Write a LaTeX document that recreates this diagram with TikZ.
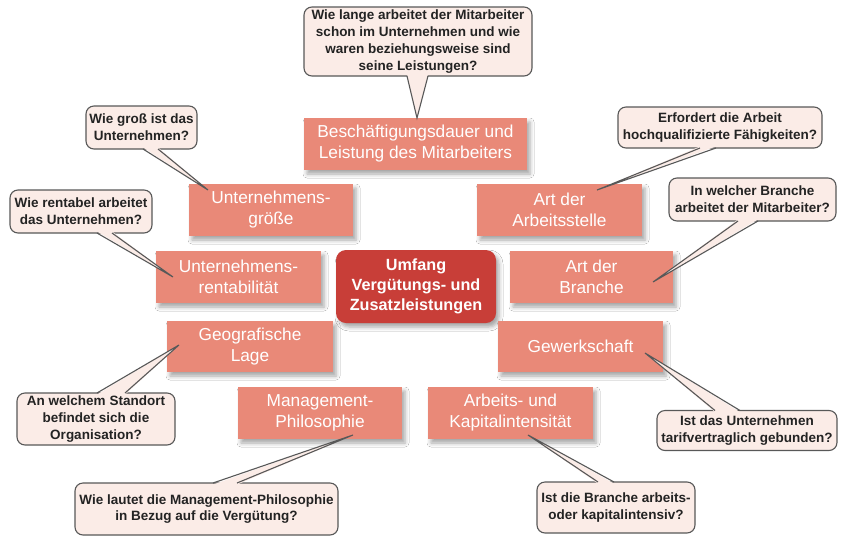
\documentclass[tikz,border=0pt]{standalone}
\usepackage{fontspec}
\setmainfont{Liberation Sans}
\usetikzlibrary{backgrounds,shadows.blur}

\definecolor{boxfill}{RGB}{233,137,120}
\definecolor{corefill}{RGB}{200,62,56}
\definecolor{bubblefill}{RGB}{251,236,231}
\definecolor{bubbleline}{RGB}{88,88,88}
\definecolor{spokeline}{RGB}{105,105,105}
\definecolor{bubbletext}{RGB}{35,35,35}

\tikzset{
  factor/.style={rectangle, fill=boxfill, inner sep=0pt, outer sep=0pt,
    minimum height=52pt, align=center, text=white,
    font=\fontsize{17.3}{21}\selectfont,
    blur shadow={shadow xshift=3pt, shadow yshift=-4pt, shadow blur radius=4pt, shadow opacity=35}},
  core/.style={rectangle, rounded corners=10pt, fill=corefill, inner sep=0pt, outer sep=0pt,
    minimum width=160pt, minimum height=73pt, align=center, text=white,
    font=\bfseries\fontsize{16.2}{20}\selectfont,
    blur shadow={shadow xshift=3pt, shadow yshift=-4pt, shadow blur radius=4pt, shadow opacity=35}},
  bubble/.style={rectangle, rounded corners=8pt, draw=bubbleline, line width=1.1pt,
    fill=bubblefill, inner sep=0pt, outer sep=0pt, align=center, text=bubbletext,
    font=\bfseries\fontsize{13.5}{16.7}\selectfont},
  spoke/.style={draw=spokeline, line width=1.3pt},
  tailfill/.style={fill=bubblefill},
  tailline/.style={draw=bubbleline, line width=1.1pt, line join=miter},
}

% callout tail leaving a bubble downwards / upwards:
% #1 bubble, #2 and #3 x offsets of the tail base, #4 tip coordinate
\newcommand\taildown[4]{%
  \fill[tailfill] ([xshift=#2pt,yshift=1.6pt]#1.south) -- (#4) -- ([xshift=#3pt,yshift=1.6pt]#1.south) -- cycle;
  \draw[tailline] ([xshift=#2pt]#1.south) -- (#4) -- ([xshift=#3pt]#1.south);}
\newcommand\tailup[4]{%
  \fill[tailfill] ([xshift=#2pt,yshift=-1.6pt]#1.north) -- (#4) -- ([xshift=#3pt,yshift=-1.6pt]#1.north) -- cycle;
  \draw[tailline] ([xshift=#2pt]#1.north) -- (#4) -- ([xshift=#3pt]#1.north);}

\begin{document}
\begin{tikzpicture}[x=1pt, y=-1pt]
\fill[white] (0,0) rectangle (847,542);
\useasboundingbox (0,0) rectangle (847,542);

% centre
\node[core] (c) at (416,286.5) {Umfang\\Vergütungs- und\\Zusatzleistungen};

% factors
\node[factor, minimum width=223pt] (besch) at (415.5,144) {Beschäftigungsdauer und\\Leistung des Mitarbeiters};
\node[factor, minimum width=164pt] (gross) at (271,210) {Unternehmens-\\größe};
\node[factor, minimum width=165pt] (rent) at (238.5,277) {Unternehmens-\\rentabilität};
\node[factor, minimum width=165pt] (stelle) at (559.5,210) {Art der\\Arbeitsstelle};
\node[factor, minimum width=163pt] (branche) at (591.5,277) {Art der\\Branche};
\node[factor, minimum width=166pt, minimum height=51pt] (geo) at (250,346.5) {Geografische\\Lage};
\node[factor, minimum width=165pt, minimum height=51pt] (gew) at (580.5,346.5) {Gewerkschaft};
\node[factor, minimum width=164pt] (mgmt) at (320,413) {Management-\\Philosophie};
\node[factor, minimum width=165pt] (kap) at (510.5,413) {Arbeits- und\\Kapitalintensität};

% spokes from the centre
\begin{pgfonlayer}{background}
\draw[spoke] (c.center) -- (besch.south);
\draw[spoke] (c.center) -- ([yshift=-8pt]gross.east);
\draw[spoke] (c.center) -- (rent.east);
\draw[spoke] (c.center) -- ([yshift=-8pt]stelle.west);
\draw[spoke] (c.center) -- ([yshift=2pt]branche.west);
\draw[spoke] (c.center) -- ([yshift=6pt]geo.east);
\draw[spoke] (c.center) -- ([yshift=6pt]gew.west);
\draw[spoke] (c.center) -- ([xshift=62pt]mgmt.north);
\draw[spoke] (c.center) -- ([xshift=-60pt]kap.north);
\end{pgfonlayer}

% questions
\node[bubble, minimum width=228pt, minimum height=69pt] (q1) at (418,41.5)
  {Wie lange arbeitet der Mitarbeiter\\schon im Unternehmen und wie\\waren beziehungsweise sind\\seine Leistungen?};
\node[bubble, minimum width=111pt, minimum height=43pt] (q2) at (141.5,127.5)
  {Wie groß ist das\\Unternehmen?};
\node[bubble, minimum width=142pt, minimum height=43pt] (q3) at (81,211.5)
  {Wie rentabel arbeitet\\das Unternehmen?};
\node[bubble, minimum width=204pt, minimum height=41pt] (q4) at (720,127.5)
  {Erfordert die Arbeit\\hochqualifizierte Fähigkeiten?};
\node[bubble, minimum width=167pt, minimum height=43pt] (q5) at (752.5,199.5)
  {In welcher Branche\\arbeitet der Mitarbeiter?};
\node[bubble, minimum width=158pt, minimum height=52pt] (q6) at (96,419)
  {An welchem Standort\\befindet sich die\\Organisation?};
\node[bubble, minimum width=180pt, minimum height=40pt] (q7) at (747,430.5)
  {Ist das Unternehmen\\tarifvertraglich gebunden?};
\node[bubble, minimum width=263pt, minimum height=52pt] (q8) at (206.5,509)
  {Wie lautet die Management-Philosophie\\in Bezug auf die Vergütung?};
\node[bubble, minimum width=158pt, minimum height=51pt] (q9) at (616,507.5)
  {Ist die Branche arbeits-\\oder kapitalintensiv?};

% tail tips inside the factor boxes
\coordinate (p1) at (417,118);
\coordinate (p2) at (208,190);
\coordinate (p3) at (173,277);
\coordinate (p4) at (597,190);
\coordinate (p5) at (653,282);
\coordinate (p6) at (179,345);
\coordinate (p7) at (645,353);
\coordinate (p8) at (353,435);
\coordinate (p9) at (528,435);

\taildown{q1}{-11}{10}{p1}
\taildown{q2}{1.5}{16.5}{p2}
\taildown{q3}{16}{31}{p3}
\taildown{q4}{-20}{-4}{p4}
\taildown{q5}{-14.5}{5.5}{p5}
\tailup{q6}{1}{29}{p6}
\tailup{q7}{-32}{-7}{p7}
\tailup{q8}{6.5}{30.5}{p8}
\tailup{q9}{-18}{-2}{p9}
\end{tikzpicture}
\end{document}
